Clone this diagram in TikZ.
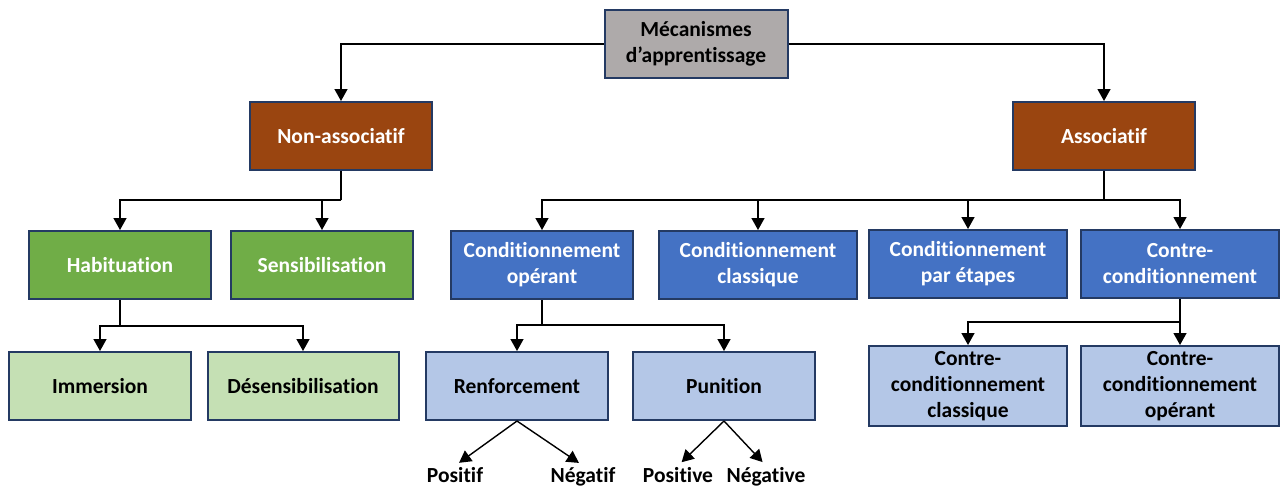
\documentclass[tikz,border=0pt]{standalone}
\usepackage{fontspec}
\setmainfont{Carlito}[Ligatures=NoCommon]
\usetikzlibrary{arrows.meta}

\definecolor{rootgray}{HTML}{AEAAAA}
\definecolor{edgenavy}{HTML}{243A63}
\definecolor{rust}{HTML}{9A4510}
\definecolor{leafgreen}{HTML}{70AD47}
\definecolor{palegreen}{HTML}{C5E0B4}
\definecolor{midblue}{HTML}{4472C4}
\definecolor{paleblue}{HTML}{B4C7E7}

\begin{document}
\begin{tikzpicture}[
    x=1pt, y=-1pt,
    >={Triangle[length=12pt,width=13pt]},
    box/.style={draw=edgenavy, line width=2pt, minimum width=182pt, minimum height=68pt,
        align=center, font=\fontsize{21.5}{26}\selectfont\bfseries, inner sep=2pt},
    wide/.style={box, minimum width=198pt},
    root/.style={box, fill=rootgray, text=black},
    kind/.style={box, fill=rust, text=white},
    nonasc/.style={box, fill=leafgreen, text=white},
    nonascsub/.style={box, fill=palegreen, text=black},
    asc/.style={box, fill=midblue, text=white},
    ascsub/.style={box, fill=paleblue, text=black},
    sign/.style={anchor=base, font=\fontsize{21.5}{26}\selectfont\bfseries, inner sep=1pt},
    link/.style={line width=1.4pt},
]
\useasboundingbox (0,0) rectangle (1281,488);

% top levels
\node[root, minimum width=183pt] (meca) at (696,44) {Mécanismes\\d’apprentissage};
\node[kind] (nonassoc) at (341,136) {Non-associatif};
\node[kind] (assoc) at (1104,136) {Associatif};

% second level
\node[nonasc] (habit) at (120,265) {Habituation};
\node[nonasc] (sensib) at (322,265) {Sensibilisation};
\node[asc] (condop) at (542,265) {Conditionnement\\opérant};
\node[asc, wide] (condcl) at (758,265) {Conditionnement\\classique};
\node[asc, wide] (condet) at (968,264) {Conditionnement\\par étapes};
\node[asc, wide] (contre) at (1180,264) {Contre-\\conditionnement};

% third level
\node[nonascsub] (immer) at (100,386) {Immersion};
\node[nonascsub, minimum width=191pt] (desens) at (303,386) {Désensibilisation};
\node[ascsub] (renf) at (517,386) {Renforcement};
\node[ascsub] (punit) at (724,386) {Punition};
\node[ascsub, wide, minimum height=80pt] (ccclas) at (968,386) {Contre-\\conditionnement\\classique};
\node[ascsub, wide, minimum height=80pt] (ccop) at (1180,386) {Contre-\\conditionnement\\opérant};

% signs
\node[sign] (renfpos) at (455,482) {Positif};
\node[sign] (renfneg) at (583,482) {Négatif};
\node[sign] (punpos) at (678,482) {Positive};
\node[sign] (punneg) at (766,482) {Négative};

% junctions
\coordinate (jnon) at (341,200);
\coordinate (jasc) at (1104,200);
\coordinate (jhab) at (120,326);
\coordinate (jcop) at (542,325);
\coordinate (jcon) at (1180,322);

\draw[link,->] (meca.west) -| (nonassoc.north);
\draw[link,->] (meca.east) -| (assoc.north);

\draw[link] (nonassoc.south) -- (jnon);
\draw[link,->] (jnon) -| (habit.north);
\draw[link,->] (jnon) -| (sensib.north);

\draw[link] (assoc.south) -- (jasc);
\foreach \n in {condop,condcl,condet,contre}
  \draw[link,->] (jasc) -| (\n.north);

\draw[link] (habit.south) -- (jhab);
\draw[link,->] (jhab) -| (immer.north);
\draw[link,->] (jhab) -| (desens.north);

\draw[link] (condop.south) -- (jcop);
\draw[link,->] (jcop) -| (renf.north);
\draw[link,->] (jcop) -| (punit.north);

\draw[link] (contre.south) -- (jcon);
\draw[link,->] (jcon) -| (ccclas.north);
\draw[link,->] (jcon) -- (ccop.north);

\draw[link,->,shorten >=5pt] (renf.south) -- (renfpos.north);
\draw[link,->,shorten >=5pt] (renf.south) -- (renfneg.north);
\draw[link,->,shorten >=5pt] (punit.south) -- (punpos.north);
\draw[link,->,shorten >=5pt] (punit.south) -- (punneg.north);

\end{tikzpicture}
\end{document}
